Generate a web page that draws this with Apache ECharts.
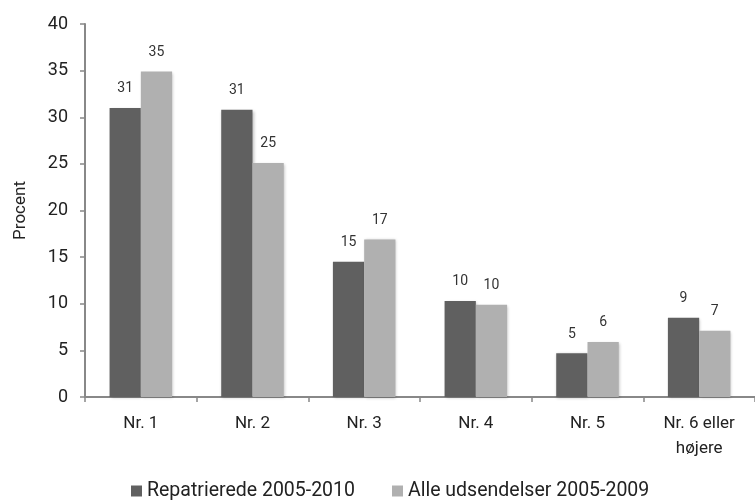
<!DOCTYPE html>
<html>
<head>
<meta charset="utf-8">
<script src="https://cdn.jsdelivr.net/npm/echarts@6/dist/echarts.min.js"></script>
<style>html,body{margin:0;padding:0;background:#fff}#c{width:755px;height:501px}</style>
</head>
<body>
<div id="c"></div>
<script>
const categories = ['Nr. 1', 'Nr. 2', 'Nr. 3', 'Nr. 4', 'Nr. 5', 'Nr. 6 eller\nhøjere'];
const repatrierede = [31.0, 30.8, 14.5, 10.3, 4.7, 8.5];
const alleUdsendelser = [34.9, 25.1, 16.9, 9.9, 5.9, 7.1];
const seriesNames = ['Repatrierede 2005-2010', 'Alle udsendelser 2005-2009'];
const yTicks = [0, 5, 10, 15, 20, 25, 30, 35, 40];

const font = 'Roboto, "DejaVu Sans", sans-serif';
const fw = 'normal';
const chart = echarts.init(document.getElementById('c'), null, {renderer: 'canvas'});
const labelCfg = {
  show: true, position: 'top', distance: 12,
  color: '#333', fontSize: 14, fontFamily: font, fontWeight: fw,
  formatter: p => Math.round(p.value)
};
chart.setOption({
  animation: false,
  textStyle: {fontFamily: font},
  grid: {left: 85, right: -2, top: 24, bottom: 104, containLabel: false},
  legend: {
    top: 476, left: 126, itemWidth: 11, itemHeight: 11, itemGap: 37,
    icon: 'rect',
    textStyle: {fontSize: 19.5, color: '#222', fontFamily: font, fontWeight: fw, padding: [0, 0, 0, 0]},
    data: seriesNames
  },
  xAxis: {
    type: 'category', data: categories,
    axisLine: {lineStyle: {color: '#888', width: 2}},
    axisTick: {show: true, length: 5, lineStyle: {color: '#888', width: 1.5}},
    axisLabel: {fontSize: 17, color: '#222', margin: 14, lineHeight: 25, fontFamily: font, fontWeight: fw}
  },
  yAxis: {
    type: 'value', min: yTicks[0], max: yTicks[yTicks.length - 1], interval: 5,
    name: 'Procent', nameLocation: 'middle', nameGap: 56, nameRotate: 90,
    nameTextStyle: {fontSize: 17, color: '#222', fontFamily: font, fontWeight: fw},
    axisLine: {show: true, lineStyle: {color: '#888', width: 2}},
    axisTick: {show: true, length: 5, lineStyle: {color: '#888', width: 1.5}},
    axisLabel: {fontSize: 18, color: '#222', margin: 17, fontFamily: font, fontWeight: fw},
    splitLine: {show: false}
  },
  series: [
    {
      name: seriesNames[0], type: 'bar', data: repatrierede,
      barWidth: '28%', barGap: '0%',
      itemStyle: {color: '#606060', shadowColor: 'rgba(0,0,0,0.25)', shadowBlur: 3, shadowOffsetX: 1, shadowOffsetY: 1},
      label: labelCfg
    },
    {
      name: seriesNames[1], type: 'bar', data: alleUdsendelser,
      barWidth: '28%', barGap: '0%',
      itemStyle: {color: '#b0b0b0', shadowColor: 'rgba(0,0,0,0.25)', shadowBlur: 3, shadowOffsetX: 1, shadowOffsetY: 1},
      label: labelCfg
    }
  ]
});
</script>
</body>
</html>
